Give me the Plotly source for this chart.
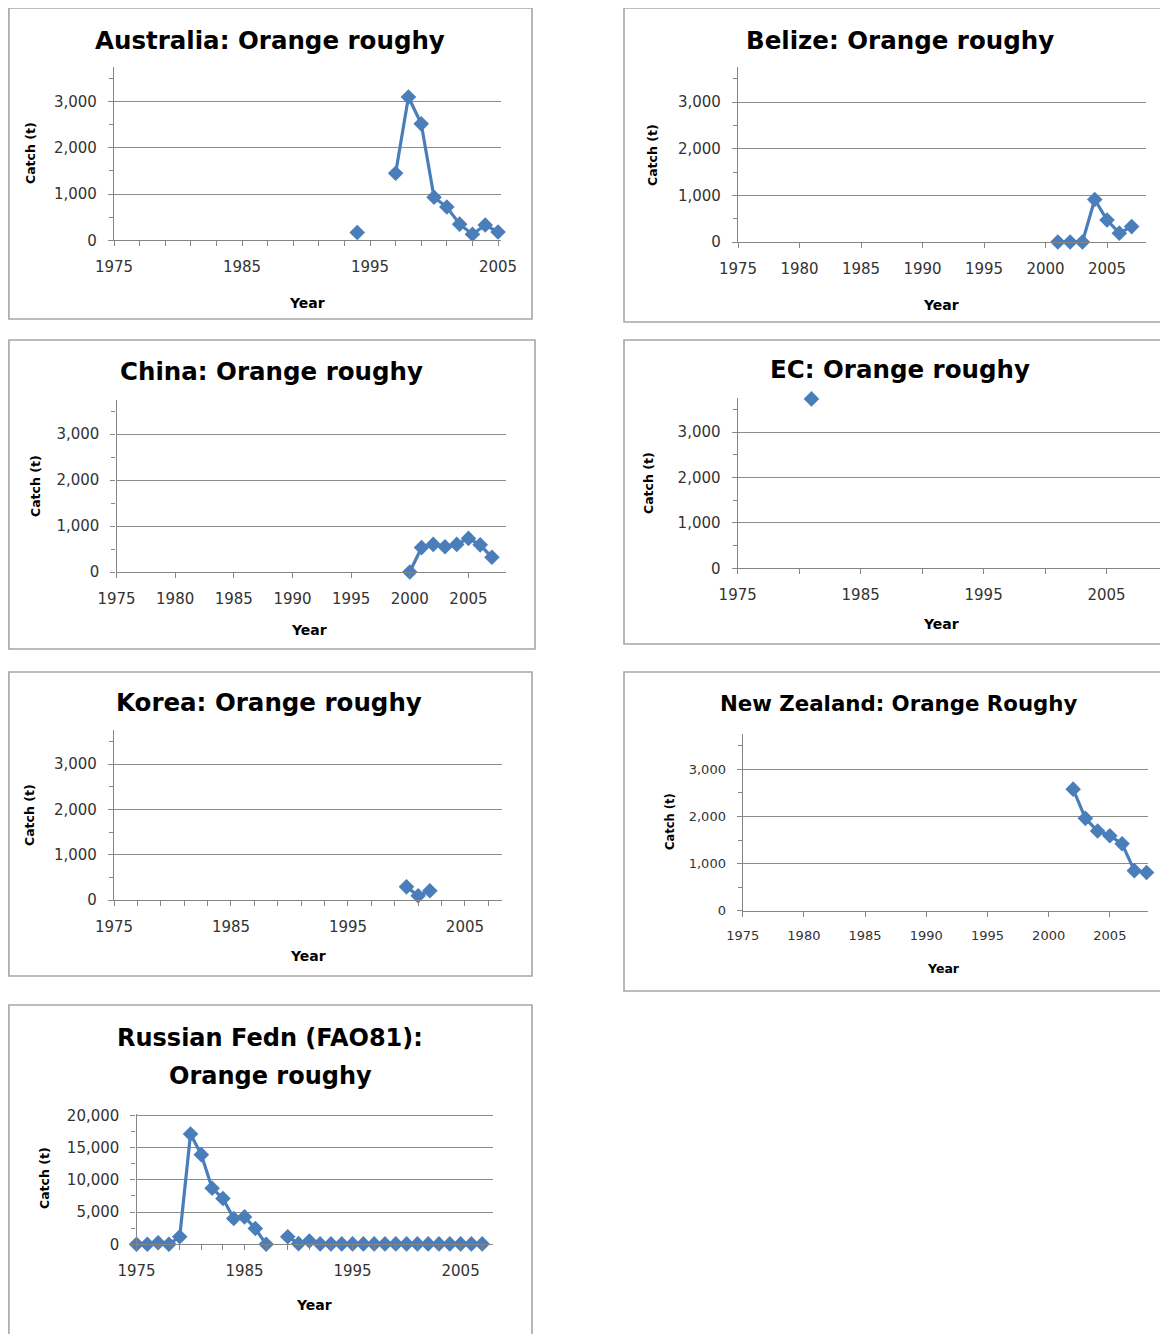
import plotly.graph_objects as go

# page body adds an 8px offset; the figure covers the rest of the window
OX, OY = 8, 8
W, H = 1168 - OX, 1334 - OY

# ---------------- data ----------------
aus_years = [1994, 1995, 1996, 1997, 1998, 1999, 2000, 2001, 2002, 2003, 2004, 2005]
aus_catch = [170, None, None, 1450, 3100, 2520, 930, 720, 350, 130, 330, 180]

bel_years = [2001, 2002, 2003, 2004, 2005, 2006, 2007]
bel_catch = [0, 0, 0, 910, 470, 190, 330]

chn_years = [2000, 2001, 2002, 2003, 2004, 2005, 2006, 2007]
chn_catch = [0, 530, 600, 550, 600, 730, 590, 320]

ec_years = [1981]
ec_catch = [3730]

kor_years = [2000, 2001, 2002]
kor_catch = [290, 95, 205]

nz_years = [2002, 2003, 2004, 2005, 2006, 2007, 2008]
nz_catch = [2580, 1960, 1690, 1590, 1420, 850, 810]

rus_years = list(range(1975, 2008))
rus_catch = [0, 0, 250, 0, 1170, 17100, 13900, 8700, 7100, 4000, 4250, 2450, 0,
             None, 1170, 100, 500,
             60, 60, 60, 60, 60, 60, 60, 60, 60, 60, 60, 60, 60, 60, 60, 60]

titles = ["Australia: Orange roughy", "Belize: Orange roughy", "China: Orange roughy",
          "EC: Orange roughy", "Korea: Orange roughy", "New Zealand: Orange Roughy",
          "Russian Fedn (FAO81):", "Orange roughy"]
y_title = "Catch (t)"
x_title = "Year"

# ---------------- layout helpers (reference-pixel -> paper) ----------------
def px_x(v):
    return (v - OX) / W

def px_y(v):
    return 1 - (v - OY) / H

def xd(a, b):
    return [max(px_x(a), 0.0), min(px_x(b), 1.0)]

def yd(top, bottom):
    return [px_y(bottom), px_y(top)]

BLUE = "#4a7ebb"
GRID = "#8c8c8c"
AXIS = "#868686"
TICKFONT = "DejaVu Sans"
BOLD = "DejaVu Sans"

panels = [
    dict(x=aus_years, y=aus_catch, xdom=(114, 500.6), xr=[1975, 2005.2], ydom=(67, 240.3), yr=[0, 3750],
         xdt=10, xmin=2, ydt=1000, ymin=500, fs=15),
    dict(x=bel_years, y=bel_catch, xdom=(738, 1146.4), xr=[1975, 2008.2], ydom=(67, 242), yr=[0, 3750],
         xdt=5, xmin=None, ydt=1000, ymin=500, fs=15),
    dict(x=chn_years, y=chn_catch, xdom=(116.5, 506), xr=[1975, 2008.2], ydom=(399.5, 572), yr=[0, 3750],
         xdt=5, xmin=None, ydt=1000, ymin=500, fs=15),
    dict(x=ec_years, y=ec_catch, xdom=(737.7, 1168), xr=[1975, 2010], ydom=(398, 568.3), yr=[0, 3750],
         xdt=10, xmin=5, ydt=1000, ymin=500, fs=15),
    dict(x=kor_years, y=kor_catch, xdom=(114, 502.4), xr=[1975, 2008.2], ydom=(730, 900), yr=[0, 3750],
         xdt=10, xmin=2, ydt=1000, ymin=500, fs=15),
    dict(x=nz_years, y=nz_catch, xdom=(742.7, 1147.8), xr=[1975, 2008.1], ydom=(734, 910.7), yr=[0, 3750],
         xdt=5, xmin=None, ydt=1000, ymin=500, fs=13),
    dict(x=rus_years, y=rus_catch, xdom=(136.5, 493), xr=[1975, 2008], ydom=(1114, 1244.3), yr=[0, 20200],
         xdt=10, xmin=2, ydt=5000, ymin=2500, fs=15),
]

fig = go.Figure()
layout = dict(
    width=W, height=H, margin=dict(l=0, r=0, t=0, b=0, pad=0, autoexpand=False),
    paper_bgcolor="white", plot_bgcolor="white", showlegend=False,
)

for i, p in enumerate(panels):
    n = "" if i == 0 else str(i + 1)
    fig.add_trace(go.Scatter(
        x=p["x"], y=p["y"], mode="lines+markers",
        line=dict(color=BLUE, width=3.2),
        marker=dict(symbol="diamond", size=12, color=BLUE),
        connectgaps=False, cliponaxis=False,
        xaxis="x" + n, yaxis="y" + n,
    ))
    xa = dict(
        domain=xd(*p["xdom"]), range=p["xr"], anchor="y" + n, automargin=False,
        tick0=1975, dtick=p["xdt"], ticks="outside", ticklen=5, tickcolor=AXIS,
        showline=True, linecolor=AXIS, linewidth=1.3, showgrid=False, zeroline=False,
        tickfont=dict(family=TICKFONT, size=p["fs"], color="#333"),
        ticklabelstandoff=8,
    )
    if p["xmin"]:
        xa["minor"] = dict(tick0=1975, dtick=p["xmin"], ticks="outside", ticklen=5,
                           tickcolor=AXIS, showgrid=False)
    ya = dict(
        domain=yd(*p["ydom"]), range=p["yr"], anchor="x" + n, automargin=False,
        dtick=p["ydt"], tickformat=",", ticks="outside", ticklen=5, tickcolor=AXIS,
        showline=True, linecolor=AXIS, linewidth=1.3, showgrid=True, gridcolor=GRID,
        gridwidth=1, zeroline=False,
        tickfont=dict(family=TICKFONT, size=p["fs"], color="#333"),
        ticklabelstandoff=8,
        minor=dict(dtick=p["ymin"], ticks="outside", ticklen=4, tickcolor=AXIS, showgrid=False),
    )
    layout["xaxis" + n] = xa
    layout["yaxis" + n] = ya

fig.update_layout(**layout)

# ---------------- panel frames ----------------
frames = [(8.9, 7.9, 532, 319), (624, 7.9, 1172, 322), (8.9, 340, 535, 649), (624, 340, 1172, 644),
          (8.9, 672, 532, 976), (624, 672, 1172, 991), (8.9, 1005, 532, 1340)]
for (x0, y0, x1, y1) in frames:
    fig.add_shape(type="rect", xref="paper", yref="paper",
                  x0=px_x(x0), x1=px_x(x1), y0=px_y(y1), y1=px_y(y0),
                  line=dict(color="#a6a6a6", width=1.6), fillcolor="rgba(0,0,0,0)", layer="below")

# ---------------- titles ----------------
title_pos = [(270, 40, 24.5), (900, 40, 24.5), (271, 371, 24.5), (900, 370, 24.5),
             (269, 702, 24.5), (898, 703, 21.3), (270, 1038, 24), (270, 1076, 24)]
for t, (cx, cy, fs) in zip(titles, title_pos):
    fig.add_annotation(text="<b>" + t + "</b>", x=px_x(cx), y=px_y(cy), xref="paper", yref="paper",
                       showarrow=False, xanchor="center", yanchor="middle",
                       font=dict(family=BOLD, size=fs, color="black"))

# y axis titles
ytitle_pos = [(30, 153, 12.5), (652, 155, 12.5), (35, 486, 12.5), (648, 483, 12.5),
              (30, 815, 12.5), (670, 822, 11.5), (44, 1178, 12.5)]
for (cx, cy, fs) in ytitle_pos:
    fig.add_annotation(text="<b>" + y_title + "</b>", x=px_x(cx), y=px_y(cy), xref="paper", yref="paper",
                       showarrow=False, textangle=-90, xanchor="center", yanchor="middle",
                       font=dict(family=BOLD, size=fs, color="black"))

# x axis titles
xtitle_pos = [(307, 303, 14), (941, 305, 14), (309, 630, 14), (941, 624, 14),
              (308, 956, 14), (944, 968, 12.5), (314, 1305, 14)]
for (cx, cy, fs) in xtitle_pos:
    fig.add_annotation(text="<b>" + x_title + "</b>", x=px_x(cx), y=px_y(cy), xref="paper", yref="paper",
                       showarrow=False, xanchor="center", yanchor="middle",
                       font=dict(family=BOLD, size=fs, color="black"))

fig.write_html("out.html")
